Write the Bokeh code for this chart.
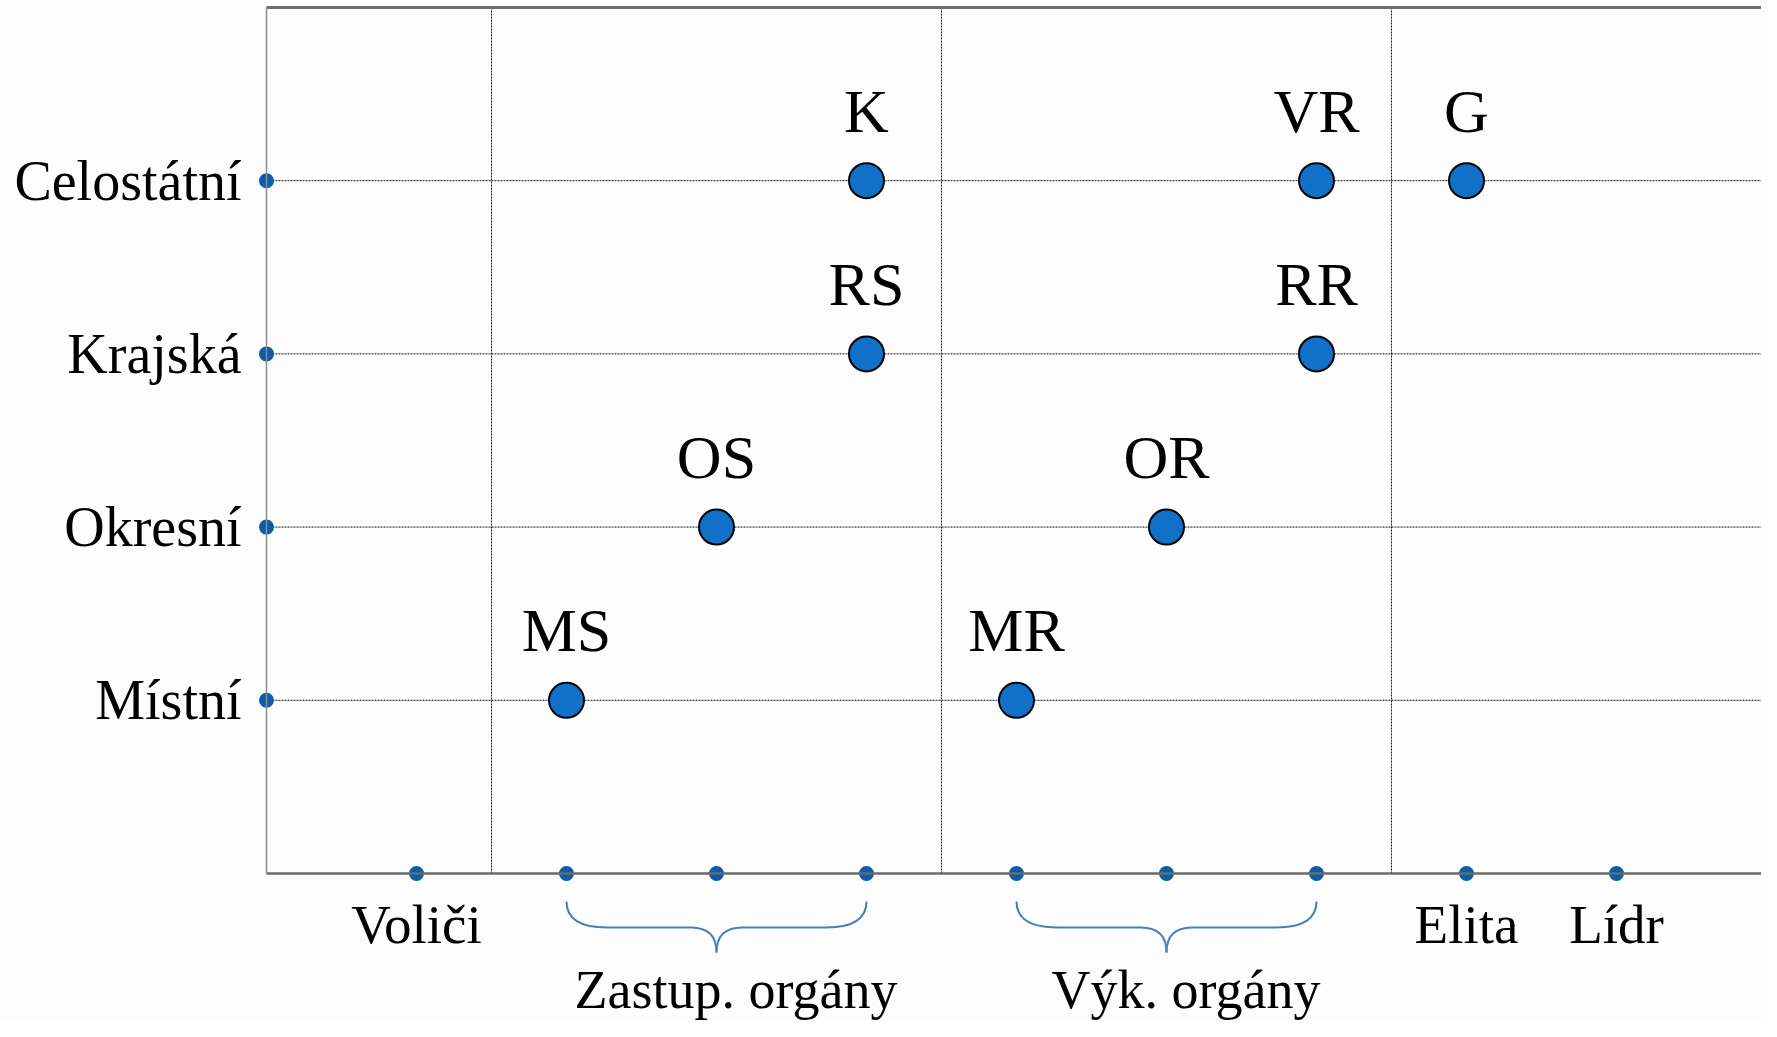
from bokeh.plotting import figure
from bokeh.models import FixedTicker, Range1d, ColumnDataSource
from bokeh.core.properties import value
from bokeh.embed import file_html
from bokeh.resources import INLINE

# ---------------- data ----------------
levels = ["Místní", "Okresní", "Krajská", "Celostátní"]
level_pos = [1, 2, 3, 4]

x_ticks = [1, 2, 3, 4, 5, 6, 7, 8, 9]
x_tick_labels = ["Voliči", "", "", "", "", "", "", "Elita", "Lídr"]

separators = [1.5, 4.5, 7.5]

point_names = ["MS", "MR", "OS", "OR", "RS", "RR", "K", "VR", "G"]
point_x = [2, 5, 3, 6, 4, 7, 4, 7, 8]
point_y = [1, 1, 2, 2, 3, 3, 4, 4, 4]

group_names = ["Zastup. orgány", "Výk. orgány"]
group_start = [2, 5]
group_end = [4, 7]

X_MAX = 10
Y_MAX = 5

# ---------------- layout ----------------
W, H = 1761, 1021
X0_PX = 266      # pixel column of x=0
KX = 150.0       # px per x unit
Y0_PX = 873      # pixel row of y=0
TOP_PX = 7       # pixel row of y=Y_MAX
KY = (Y0_PX - TOP_PX) / Y_MAX

x_start = -X0_PX / KX
x_end = (W - X0_PX) / KX
y_end = Y_MAX + TOP_PX / KY
y_start = y_end - H / KY


def py(px):
    """pixel row -> data y"""
    return (Y0_PX - px) / KY


FONT = "Liberation Serif"
BG = "#fdfdfd"
GRID = "#1a1a1a"

p = figure(width=W, height=H,
           x_range=Range1d(x_start, x_end), y_range=Range1d(y_start, y_end),
           output_backend="svg", toolbar_location=None,
           min_border_left=0, min_border_right=0,
           min_border_top=0, min_border_bottom=0,
           background_fill_color=BG, border_fill_color=BG,
           outline_line_color=None)

p.xgrid.visible = False
p.ygrid.visible = False

# horizontal dotted grid lines
p.segment(x0=[0] * len(level_pos), y0=level_pos, x1=[X_MAX] * len(level_pos), y1=level_pos,
          line_color=GRID, line_width=1, line_dash="2 1")
# vertical dotted separators
p.segment(x0=separators, y0=[0] * len(separators), x1=separators, y1=[Y_MAX] * len(separators),
          line_color=GRID, line_width=1, line_dash="2 1")
# top border
p.segment(x0=[0], y0=[Y_MAX], x1=[X_MAX], y1=[Y_MAX], line_color="#6e6e6e", line_width=3)

# x axis on y = 0
xa = p.xaxis[0]
xa.fixed_location = 0
xa.ticker = FixedTicker(ticks=x_ticks)
xa.major_label_overrides = {t: lab for t, lab in zip(x_ticks, x_tick_labels)}
xa.bounds = (0, X_MAX)
xa.axis_line_color = "#6a6a6a"
xa.axis_line_width = 2.5
xa.major_tick_line_color = None
xa.minor_tick_line_color = None
xa.major_label_standoff = 14
xa.major_label_text_font = FONT
xa.major_label_text_font_size = "55px"
xa.major_label_text_color = "#000000"

# y axis on x = 0
ya = p.yaxis[0]
ya.fixed_location = 0
ya.ticker = FixedTicker(ticks=level_pos)
ya.major_label_overrides = {t: lab for t, lab in zip(level_pos, levels)}
ya.bounds = (0, Y_MAX)
ya.axis_line_color = "#8c8c8c"
ya.axis_line_width = 1.5
ya.major_tick_line_color = None
ya.minor_tick_line_color = None
ya.major_label_standoff = 19
ya.major_label_text_font = FONT
ya.major_label_text_font_size = "56px"
ya.major_label_text_color = "#000000"

# axis dots
DOT = "#0B5CAD"
p.scatter(x=x_ticks, y=[0] * len(x_ticks), size=15, fill_color=DOT, line_color=None)
p.scatter(x=[0] * len(level_pos), y=level_pos, size=15, fill_color=DOT, line_color=None)

# points
src = ColumnDataSource(dict(x=point_x, y=point_y, name=point_names))
p.scatter("x", "y", source=src, size=35, fill_color="#1170C8", line_color="#000000", line_width=2)
p.text("x", "y", text="name", source=src, text_font=value(FONT), text_font_size=value("62px"),
       text_align="center", text_baseline="middle", y_offset=-70, text_color="#000000")

# braces
y_top = py(901)
y_mid = py(927)
y_tip = py(952)
r1 = 0.27
r2 = 0.17
qx0, qy0, qx1, qy1, qcx, qcy = [], [], [], [], [], []
sx0, sy0, sx1, sy1 = [], [], [], []
for s, e in zip(group_start, group_end):
    m = (s + e) / 2
    qx0.append(s); qy0.append(y_top); qcx.append(s); qcy.append(y_mid); qx1.append(s + r1); qy1.append(y_mid)
    qx0.append(m - r2); qy0.append(y_mid); qcx.append(m); qcy.append(y_mid); qx1.append(m); qy1.append(y_tip)
    qx0.append(m); qy0.append(y_tip); qcx.append(m); qcy.append(y_mid); qx1.append(m + r2); qy1.append(y_mid)
    qx0.append(e - r1); qy0.append(y_mid); qcx.append(e); qcy.append(y_mid); qx1.append(e); qy1.append(y_top)
    sx0 += [s + r1, m + r2]; sx1 += [m - r2, e - r1]; sy0 += [y_mid, y_mid]; sy1 += [y_mid, y_mid]

BRACE = "#4A7EBB"
p.quadratic(x0=qx0, y0=qy0, x1=qx1, y1=qy1, cx=qcx, cy=qcy, line_color=BRACE, line_width=2)
p.segment(x0=sx0, y0=sy0, x1=sx1, y1=sy1, line_color=BRACE, line_width=2)

# group labels
gx = [(s + e) / 2 + 0.13 for s, e in zip(group_start, group_end)]
gy = [py(989)] * len(group_names)
p.text(x=gx, y=gy, text=group_names, text_font=value(FONT), text_font_size=value("54px"),
       text_align="center", text_baseline="middle", text_color="#000000")

open("out.html", "w").write(file_html(p, INLINE))
